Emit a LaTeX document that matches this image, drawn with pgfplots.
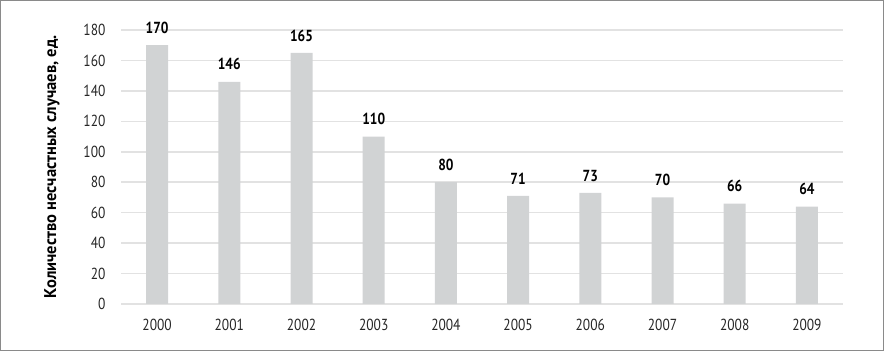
\documentclass[border=0pt]{standalone}
\usepackage{fontspec}
\setmainfont{PT Sans}[FakeStretch=0.84]
\newfontfamily\labfont{PT Sans}[FakeStretch=0.97]
\usepackage{pgfplots}
\pgfplotsset{compat=1.18}
\definecolor{barc}{HTML}{D1D3D4}
\definecolor{gridc}{HTML}{E2E2E2}
\definecolor{framec}{HTML}{8A8A8A}
\begin{document}
\begin{tikzpicture}[x=1pt,y=1pt]
\draw[framec,line width=1.2pt] (0.6,0.6) rectangle (883.4,350.4);
\begin{axis}[
  at={(121pt,47pt)}, anchor=south west,
  scale only axis, width=722pt, height=274pt,
  xmin=-0.5, xmax=9.5, ymin=0, ymax=180,
  ytick={0,20,...,180},
  xtick=data,
  xticklabels={2000,2001,2002,2003,2004,2005,2006,2007,2008,2009},
  axis line style={draw=none},
  major tick length=0pt,
  ymajorgrids, grid style={gridc,line width=1.6pt},
  /pgf/number format/assume math mode=true,
  tick label style={font=\fontsize{16}{18}\selectfont, text=black!85},
  yticklabel style={xshift=-12pt},
  xticklabel style={yshift=-12pt},
  ylabel={Количество несчастных случаев, ед.},
  ylabel style={font=\labfont\fontsize{17}{19}\selectfont\bfseries, at={(axis description cs:-0.0956,0.5)}, anchor=center},
  nodes near coords,
  every node near coord/.append style={font=\fontsize{16}{18}\selectfont\bfseries, anchor=south, yshift=8pt},
]
\addplot[ybar, bar width=22pt, fill=barc, draw=none] coordinates {
(0,170) (1,146) (2,165) (3,110) (4,80) (5,71) (6,73) (7,70) (8,66) (9,64)};
\end{axis}
\end{tikzpicture}
\end{document}
